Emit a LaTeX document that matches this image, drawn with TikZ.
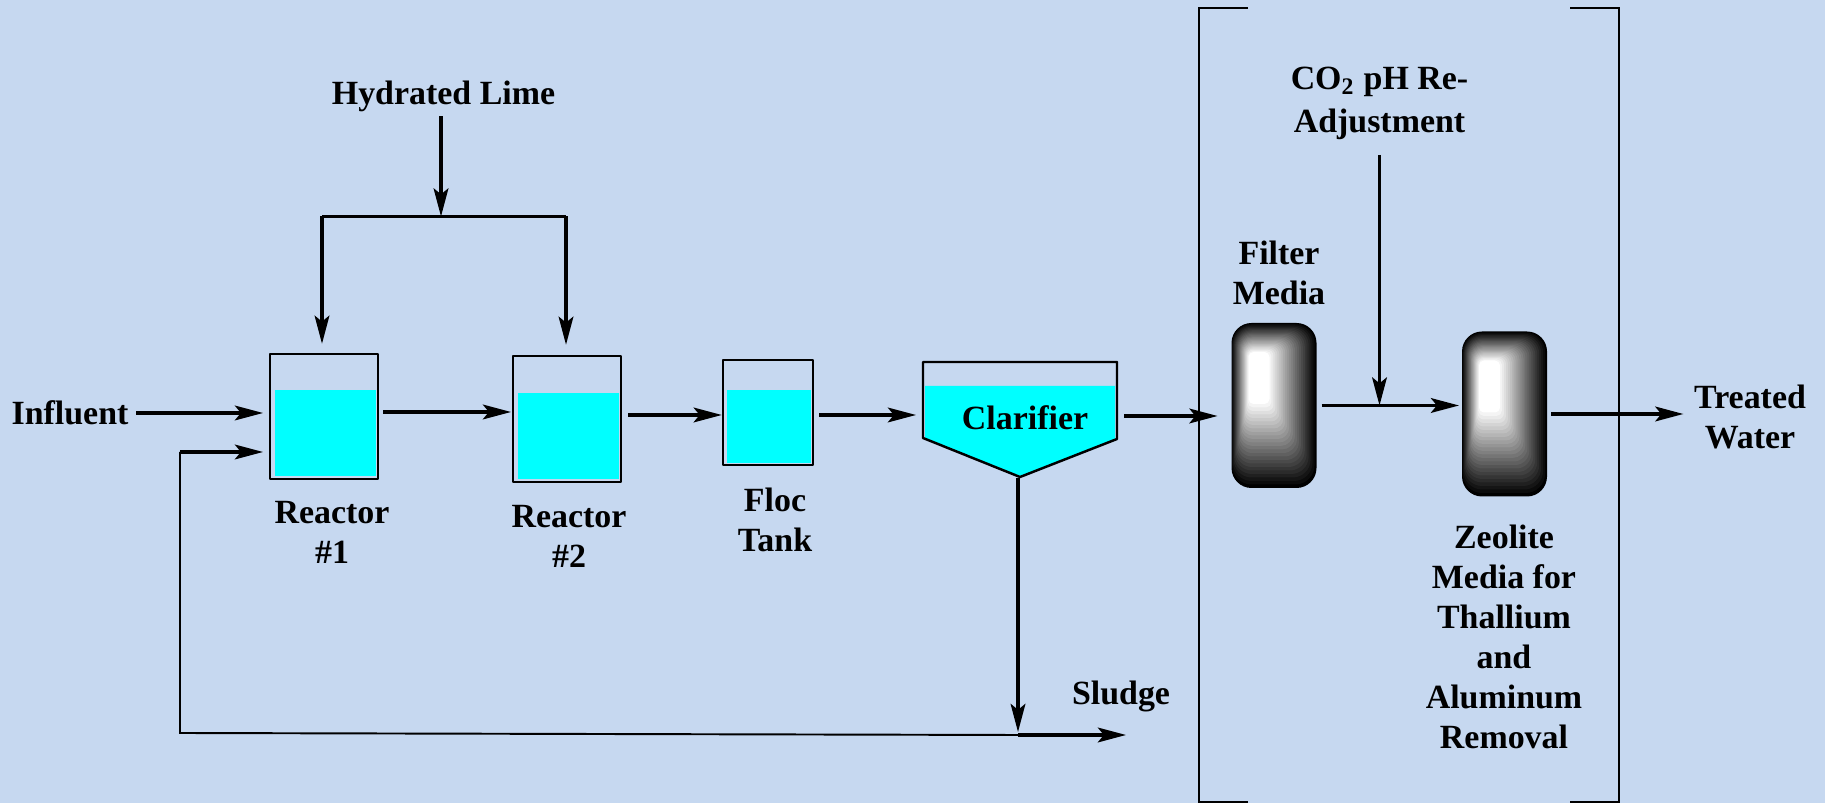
\documentclass[tikz,border=0pt]{standalone}
\usepackage{fontspec}
\setmainfont{Liberation Serif}
\usetikzlibrary{arrows.meta, positioning, calc}
\definecolor{bgblue}{RGB}{198, 216, 240}
\definecolor{liquidcyan}{RGB}{0, 255, 255}
\tikzset{
  label/.style={font=\bfseries\fontsize{9.65}{11.4}\selectfont, align=center, inner sep=2pt},
  tank/.style={draw, line width=0.7pt, line join=round, inner sep=0pt},
  flow/.style={-{Stealth[length=8pt, width=4.2pt, inset=1.7pt]}, line width=0.9pt},
  pipe/.style={line width=0.55pt},
  frame/.style={line width=0.7pt}
}
\newcommand{\mediacolumn}[3]{%
  \node[minimum width=0.85cm, minimum height=1.65cm, inner sep=0pt, outer sep=0pt] (#1) at (#2,#3) {};
  \foreach \k in {0,...,24}{
    \pgfmathsetmacro{\t}{\k/24}
    \pgfmathsetmacro{\pct}{100*(1-\t)}
    \pgfmathsetmacro{\rad}{0.15*(1-\t)+0.05}
    \fill[black!\pct!white, rounded corners=\rad cm]
      ($(#1.center)+({-0.425+0.17*\t},{0.825-0.29*\t})$) rectangle ($(#1.center)+({0.425-0.47*\t},{-0.825+0.84*\t})$);
  }
}
\begin{document}
\begin{tikzpicture}
\fill[bgblue] (0,0) rectangle (18.25,8.03);
\useasboundingbox (0,0) rectangle (18.25,8.03);

% tanks
\fill[liquidcyan] (2.75,4.13) rectangle (3.755,3.27);
\fill[liquidcyan] (5.175,4.10) rectangle (6.185,3.24);
\fill[liquidcyan] (7.27,4.13) rectangle (8.11,3.40);
\fill[liquidcyan] (9.25,4.17) -- (11.15,4.17) -- (11.15,3.64) -- (10.20,3.27) -- (9.25,3.65) -- cycle;
\node[tank, minimum width=1.075cm, minimum height=1.25cm] (r1) at (3.24,3.865) {};
\node[tank, minimum width=1.075cm, minimum height=1.26cm] (r2) at (5.67,3.84) {};
\node[tank, minimum width=0.90cm, minimum height=1.05cm] (floc) at (7.68,3.905) {};
\draw[tank] (9.23,4.41) -- (11.17,4.41) -- (11.17,3.64) -- (10.20,3.26) -- (9.23,3.65) -- cycle;
\mediacolumn{filter}{12.74}{3.975}
\mediacolumn{zeolite}{15.045}{3.89}

% labels
\node[label] (lime) at (4.435,7.065) {Hydrated Lime};
\node[label] (infl) at (0.70,3.90) {Influent};
\node[label] (r1text) at (3.32,2.71) {Reactor\\\#1};
\node[label] (r2text) at (5.69,2.67) {Reactor\\\#2};
\node[label] (floctext) at (7.75,2.83) {Floc\\Tank};
\node[label] (clartext) at (10.25,3.85) {Clarifier};
\node[label] (sludge) at (11.21,1.07) {Sludge};
\node[label] (filtertext) at (12.79,5.30) {Filter\\Media};
\node[label] (co2) at (13.795,6.995) {CO\textsubscript{2} pH Re-\\[1pt]Adjustment};
\node[label] (zeotext) at (15.04,1.66) {Zeolite\\Media for\\Thallium\\and\\Aluminum\\Removal};
\node[label] (treated) at (17.50,3.86) {Treated\\Water};

% bracket
\draw[frame] (12.48,7.95) -- (11.99,7.95) -- (11.99,0.01) -- (12.48,0.01);
\draw[frame] (15.70,7.95) -- (16.19,7.95) -- (16.19,0.01) -- (15.70,0.01);

% junctions
\coordinate (teel) at (3.22,5.865);
\coordinate (teer) at (5.66,5.865);
\coordinate (clarin) at (9.16,3.88);
\coordinate (clarout) at (11.24,3.87);
\coordinate (clartip) at (10.18,3.25);
\coordinate (sludgein) at (10.18,0.68);
\coordinate (sludgeout) at (11.26,0.68);
\coordinate (recyc) at (1.80,0.70);
\coordinate (recyctop) at (1.80,3.51);

% lime feed
\draw[flow] ([xshift=-0.025cm,yshift=0.035cm]lime.south) -- ([xshift=-0.025cm]lime.south |- teel);
\draw[line width=0.8pt] (teel) -- (teer);
\draw[flow, shorten >=0.09cm] (teel) -- (teel |- r1.north);
\draw[flow, shorten >=0.10cm] (teer) -- (teer |- r2.north);

% main line
\draw[flow, shorten >=0.06cm] (infl.east) -- (infl.east -| r1.west);
\draw[flow, shorten <=0.045cm, shorten >=0.01cm] ([yshift=0.045cm]r1.east) -- ([yshift=0.045cm]r1.east -| r2.west);
\draw[flow, shorten <=0.065cm] ([yshift=0.04cm]r2.east) -- ([yshift=0.04cm]r2.east -| floc.west);
\draw[flow, shorten <=0.05cm] ([yshift=-0.025cm]floc.east) -- ([yshift=-0.025cm]floc.east -| clarin);
\draw[flow, shorten >=0.14cm] (clarout) -- (clarout -| filter.west);
\draw[flow, shorten <=0.05cm, shorten >=0.03cm] (filter.east) -- (filter.east -| zeolite.west);
\draw[flow, shorten <=0.07cm] (co2.south) -- (co2.south |- filter.east);
\draw[flow, shorten <=0.04cm, shorten >=0.03cm] (zeolite.east) -- (zeolite.east -| treated.west);

% sludge and recycle
\draw[flow, shorten >=0.03cm] (clartip) -- (sludgein);
\draw[flow] (sludgein) -- (sludgeout);
\draw[pipe] (sludgein) -- (recyc) -- (recyctop);
\draw[flow, shorten >=0.06cm] (recyctop) -- (recyctop -| r1.west);
\end{tikzpicture}
\end{document}
